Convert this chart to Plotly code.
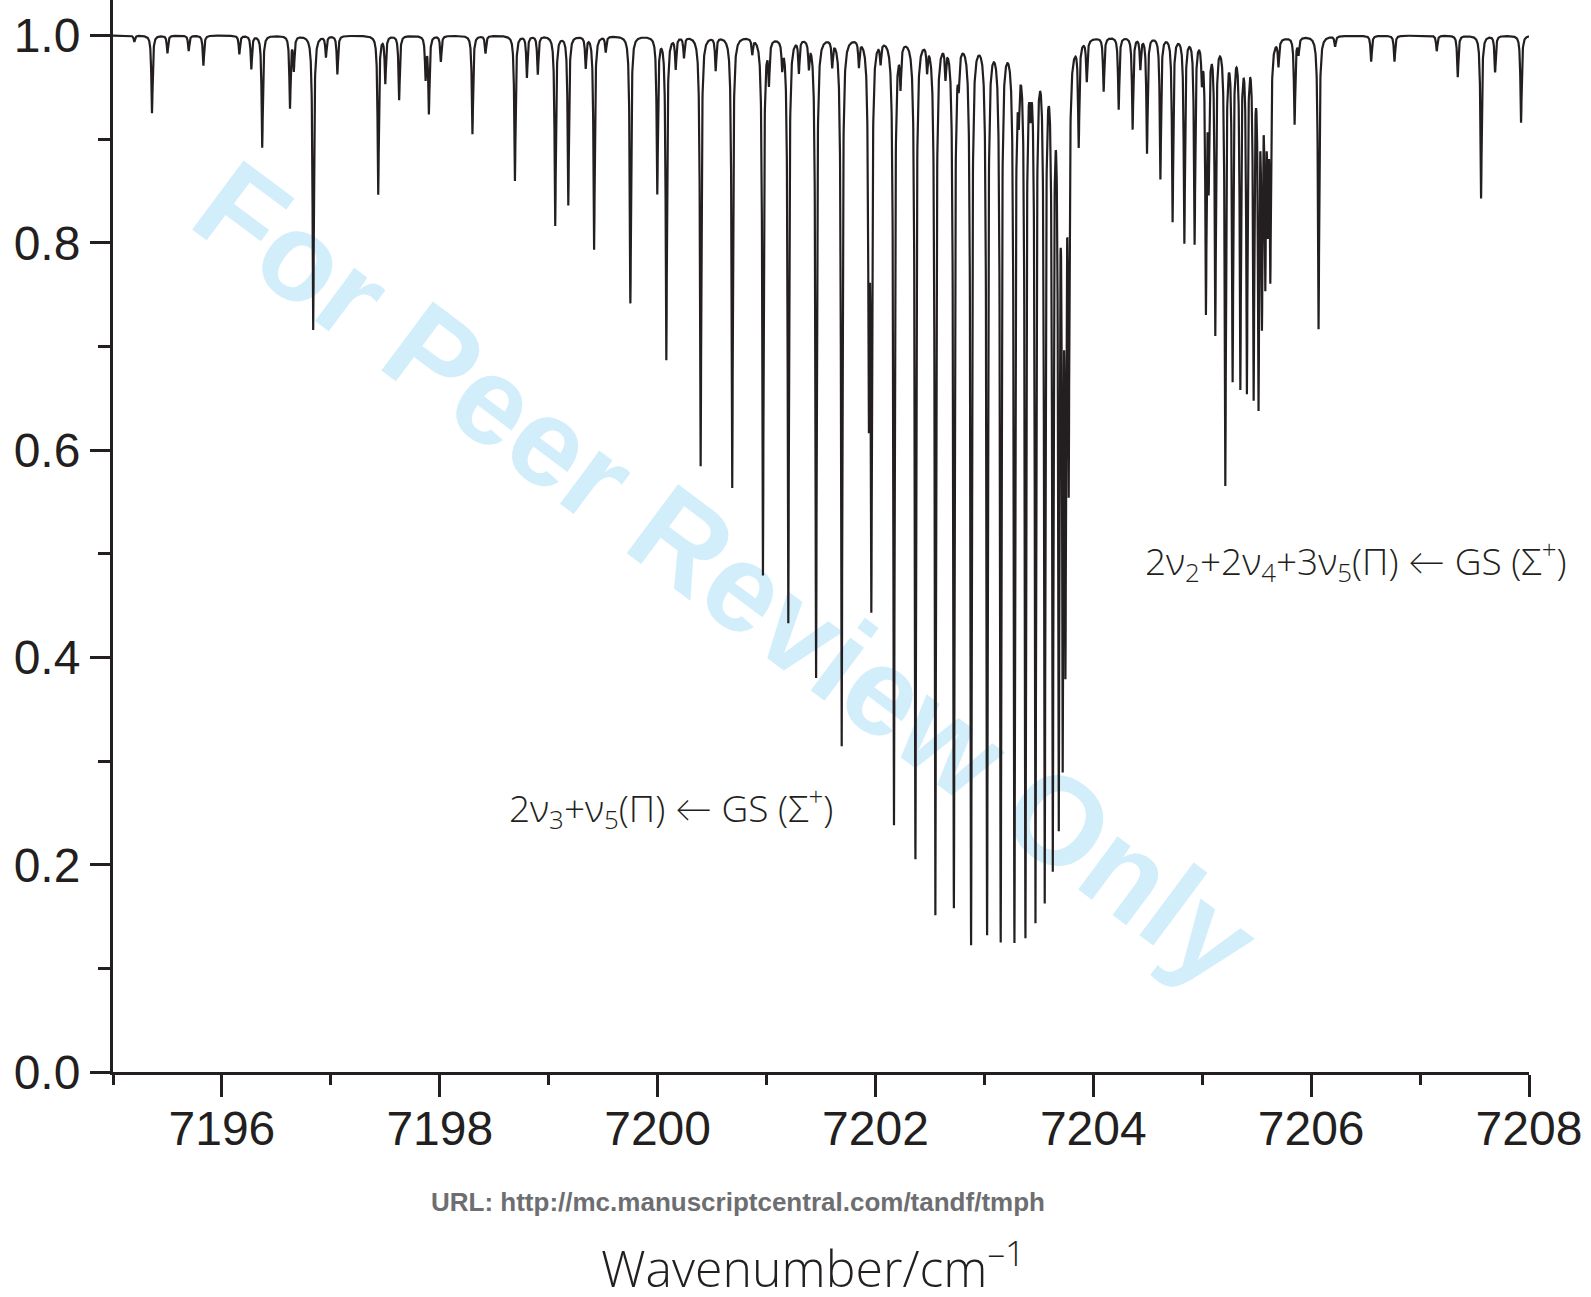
import numpy as np
import plotly.graph_objects as go

# ---- data: line centres (cm^-1) and minimum transmittance ----
line_pos = [
    7195.196, 7195.358, 7195.50, 7195.695, 7195.83, 7196.16, 7196.27, 7196.37, 7196.625, 7196.66,
    7196.838, 7196.955, 7197.06, 7197.435, 7197.50, 7197.627, 7197.87, 7197.90, 7198.01, 7198.30,
    7198.42, 7198.69, 7198.80, 7198.90, 7199.06, 7199.18, 7199.34, 7199.417, 7199.524, 7199.75,
    7199.997, 7200.08, 7200.166, 7200.242, 7200.395, 7200.533, 7200.685, 7200.869, 7200.967, 7201.022,
    7201.144, 7201.20, 7201.297, 7201.389, 7201.455, 7201.603, 7201.69, 7201.848, 7201.94, 7201.962,
    7202.047, 7202.17, 7202.23, 7202.367, 7202.474, 7202.55, 7202.643, 7202.72, 7202.765, 7202.878,
    7203.025, 7203.15, 7203.276, 7203.316, 7203.377, 7203.423, 7203.469, 7203.554, 7203.628, 7203.683,
    7203.719, 7203.744, 7203.774, 7203.866, 7203.94, 7204.095, 7204.233, 7204.361, 7204.432, 7204.493,
    7204.616, 7204.728, 7204.836, 7204.93, 7204.997, 7205.034, 7205.059, 7205.12, 7205.212, 7205.279,
    7205.35, 7205.41, 7205.472, 7205.517, 7205.548, 7205.579, 7205.603, 7205.625, 7205.70, 7205.848,
    7205.884, 7206.068, 7206.22, 7206.551, 7206.765, 7207.153, 7207.346, 7207.56, 7207.689, 7207.927,
]
line_tmin = [
    0.994, 0.925, 0.983, 0.985, 0.971, 0.982, 0.968, 0.892, 0.931, 0.968,
    0.716, 0.980, 0.963, 0.847, 0.955, 0.938, 0.960, 0.926, 0.975, 0.905,
    0.983, 0.860, 0.960, 0.963, 0.817, 0.837, 0.970, 0.794, 0.985, 0.742,
    0.849, 0.688, 0.970, 0.980, 0.585, 0.968, 0.564, 0.985, 0.480, 0.960,
    0.975, 0.434, 0.968, 0.975, 0.381, 0.975, 0.315, 0.975, 0.650, 0.459,
    0.980, 0.239, 0.960, 0.206, 0.975, 0.152, 0.970, 0.159, 0.970, 0.123,
    0.133, 0.126, 0.126, 0.950, 0.131, 0.960, 0.146, 0.166, 0.199, 0.245,
    0.315, 0.414, 0.583, 0.900, 0.960, 0.948, 0.930, 0.911, 0.970, 0.888,
    0.863, 0.822, 0.802, 0.802, 0.965, 0.742, 0.868, 0.716, 0.570, 0.673,
    0.666, 0.663, 0.660, 0.656, 0.742, 0.782, 0.842, 0.780, 0.975, 0.916,
    0.985, 0.717, 0.990, 0.975, 0.975, 0.985, 0.960, 0.843, 0.965, 0.916,
]
x_ticks = [7196, 7198, 7200, 7202, 7204, 7206, 7208]
y_ticks = [0.0, 0.2, 0.4, 0.6, 0.8, 1.0]

band1_label = "2ν<sub>3</sub>+ν<sub>5</sub>(Π) ← GS (Σ<sup>+</sup>)"
band2_label = "2ν<sub>2</sub>+2ν<sub>4</sub>+3ν<sub>5</sub>(Π) ← GS (Σ<sup>+</sup>)"
x_title = "Wavenumber/cm<sup>–1</sup>"
url_text = "URL: http://mc.manuscriptcentral.com/tandf/tmph"
watermark = "For Peer Review Only"

# ---- build the transmittance trace from the line list (Lorentzian line shape) ----
HWHM = 0.007
centres = np.array(line_pos)
depths = 1.0 - np.array(line_tmin)
wn = np.union1d(np.linspace(7195.0, 7208.0, 13001), centres)
trans = np.ones_like(wn)
for c, d in zip(centres, depths):
    trans *= 1.0 - d * HWHM**2 / (HWHM**2 + (wn - c) ** 2)

INK = "#231f20"
fig = go.Figure()
fig.add_trace(go.Scatter(x=wn, y=trans, mode="lines",
                         line=dict(color=INK, width=2.2), hoverinfo="skip", showlegend=False))

fig.update_layout(
    width=1591, height=1297,
    margin=dict(l=113, r=62, t=0, b=225),
    paper_bgcolor="white", plot_bgcolor="white",
    showlegend=False,
)
fig.update_xaxes(
    range=[7195, 7208], tickvals=x_ticks, ticktext=[str(v) for v in x_ticks],
    showline=True, linewidth=3, linecolor=INK, mirror=False,
    ticks="outside", ticklen=22, tickwidth=3, tickcolor=INK,
    tickfont=dict(family="Liberation Sans, Arial", size=48, color=INK),
    minor=dict(dtick=1, tick0=7195, ticks="outside", ticklen=10, tickwidth=3, tickcolor=INK),
    showgrid=False, zeroline=False,
)
fig.update_yaxes(
    range=[0, 1.0342], tickvals=y_ticks, ticktext=[f"{v:.1f}" for v in y_ticks],
    showline=True, linewidth=3, linecolor=INK, mirror=False,
    ticks="outside", ticklen=20, tickwidth=3, tickcolor=INK,
    tickfont=dict(family="Liberation Sans, Arial", size=48, color=INK),
    minor=dict(dtick=0.1, tick0=0, ticks="outside", ticklen=12, tickwidth=3, tickcolor=INK),
    showgrid=False, zeroline=False,
)
try:
    fig.update_xaxes(ticklabelstandoff=-10)
except Exception:
    pass

# watermark below the data
fig.add_shape(
    type="line", xref="paper", yref="paper",
    x0=0.064, y0=0.8425, x1=0.813, y1=0.1055,
    line=dict(width=0, color="rgba(0,0,0,0)"), layer="below",
    label=dict(text=watermark, textposition="middle", yanchor="middle",
               font=dict(family="Liberation Sans, Arial", size=125, color="#d2eefb", weight="bold")),
)

light = dict(family="Open Sans, Lato, sans-serif", color=INK, weight=300)
fig.add_annotation(x=0.394, y=0.247, xref="paper", yref="paper", text=band1_label,
                   showarrow=False, xanchor="center", yanchor="middle", font=dict(size=37, **light))
fig.add_annotation(x=0.8778, y=0.4767, xref="paper", yref="paper", text=band2_label,
                   showarrow=False, xanchor="center", yanchor="middle", font=dict(size=37, **light))
fig.add_annotation(x=0.4414, y=-0.1213, xref="paper", yref="paper", text=url_text,
                   showarrow=False, xanchor="center", yanchor="middle",
                   font=dict(family="Liberation Sans, Arial", size=26, color="#6d6e71", weight="bold"))
fig.add_annotation(x=0.494, y=-0.1805, xref="paper", yref="paper", text=x_title,
                   showarrow=False, xanchor="center", yanchor="middle", font=dict(size=50, **light))

fig.write_html("out.html", post_script="document.body.style.margin='0';",
               config={"displayModeBar": False})
